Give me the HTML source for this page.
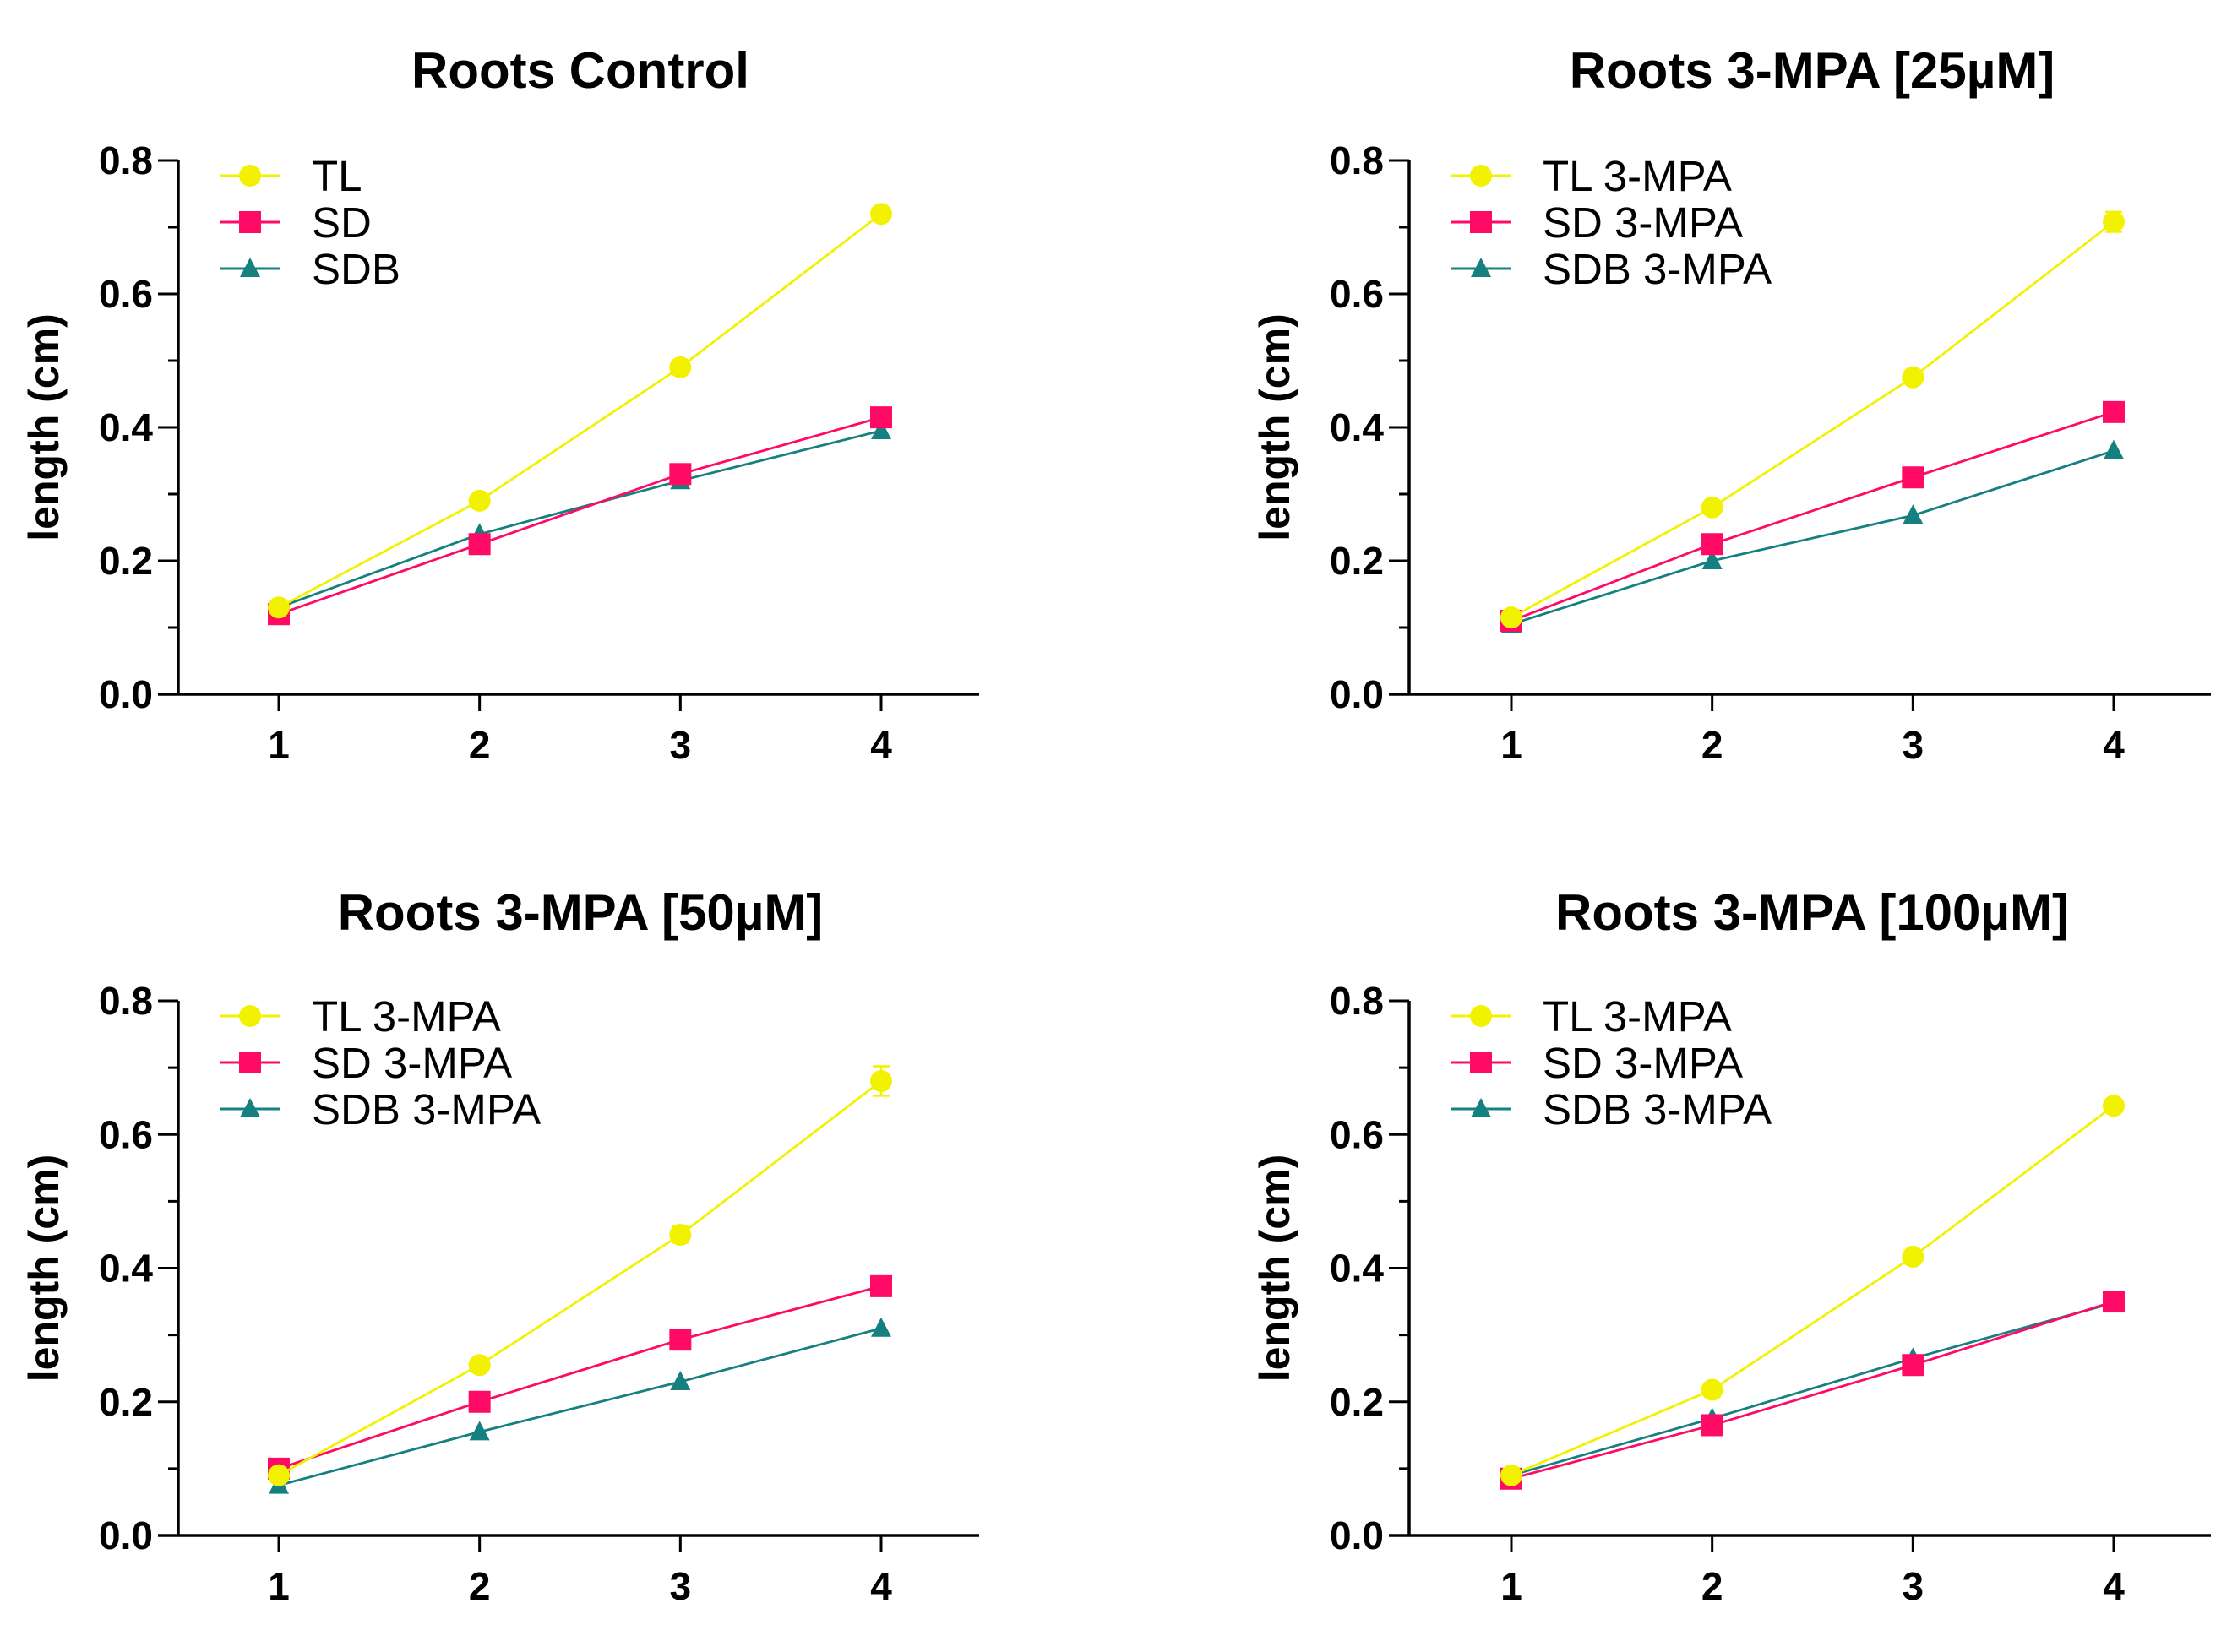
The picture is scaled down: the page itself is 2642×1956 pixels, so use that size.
<!DOCTYPE html>
<html><head><meta charset="utf-8"><style>
html,body{margin:0;padding:0;background:#fff}
svg{display:block}
text{font-family:"Liberation Sans",Arial,sans-serif}
</style></head><body>
<svg id="fig" width="2642" height="1956" viewBox="0 0 2642 1956" xmlns="http://www.w3.org/2000/svg"></svg>
<script>
const xCats = [1, 2, 3, 4];
const yTicks = [0.0, 0.2, 0.4, 0.6, 0.8];
const yTickLabels = ["0.0", "0.2", "0.4", "0.6", "0.8"];
const titles = ["Roots Control", "Roots 3-MPA [25µM]", "Roots 3-MPA [50µM]", "Roots 3-MPA [100µM]"];
const legendLabels = [["TL","SD","SDB"],["TL 3-MPA","SD 3-MPA","SDB 3-MPA"],["TL 3-MPA","SD 3-MPA","SDB 3-MPA"],["TL 3-MPA","SD 3-MPA","SDB 3-MPA"]];
const tlControl = [0.13, 0.29, 0.49, 0.72];
const sdControl = [0.12, 0.225, 0.33, 0.415];
const sdbControl = [0.13, 0.24, 0.32, 0.395];
const tl25 = [0.115, 0.28, 0.475, 0.708];
const sd25 = [0.11, 0.225, 0.325, 0.423];
const sdb25 = [0.105, 0.2, 0.268, 0.365];
const tl50 = [0.09, 0.255, 0.45, 0.68];
const sd50 = [0.1, 0.2, 0.293, 0.373];
const sdb50 = [0.075, 0.155, 0.23, 0.31];
const tl100 = [0.09, 0.218, 0.417, 0.643];
const sd100 = [0.085, 0.165, 0.255, 0.35];
const sdb100 = [0.09, 0.175, 0.265, 0.348];
const tlErr = [[0,0,0,0.008],[0,0,0,0.015],[0,0,0.012,0.022],[0,0,0,0.006]];

const NS = "http://www.w3.org/2000/svg";
const svg = document.getElementById("fig");
function mk(tag, attrs, parent) {
  const e = document.createElementNS(NS, tag);
  for (const k in attrs) e.setAttribute(k, attrs[k]);
  (parent || svg).appendChild(e);
  return e;
}
const panels = [
  {ax: 211, x1: 330, x4: 1043, xend: 1159, y0: 822, y8: 190, tx: 687, ty: 104},
  {ax: 1668, x1: 1789, x4: 2502, xend: 2617, y0: 822, y8: 190, tx: 2145, ty: 104},
  {ax: 211, x1: 330, x4: 1043, xend: 1159, y0: 1818, y8: 1185, tx: 687, ty: 1101},
  {ax: 1668, x1: 1789, x4: 2502, xend: 2617, y0: 1818, y8: 1185, tx: 2145, ty: 1101}
];
const seriesSets = [[tlControl, sdControl, sdbControl],[tl25, sd25, sdb25],[tl50, sd50, sdb50],[tl100, sd100, sdb100]];
const colors = ["#f2f200", "#ff0a64", "#168080"];
const seriesNames = ["tl", "sd", "sdb"];

function marker(g, type, cx, cy, color) {
  let m;
  if (type === 0) m = mk("circle", {cx: cx, cy: cy, r: 13, fill: color}, g);
  else if (type === 1) m = mk("rect", {x: cx - 13, y: cy - 13, width: 26, height: 26, fill: color}, g);
  else m = mk("polygon", {points: `${cx},${cy-13} ${cx+12},${cy+10} ${cx-12},${cy+10}`, fill: color}, g);
  return m;
}

panels.forEach((p, pi) => {
  const g = mk("g", {});
  
  
  const xs = v => p.x1 + (v - 1) * (p.x4 - p.x1) / 3;
  const ys = v => p.y0 - v * (p.y0 - p.y8) / 0.8;
  const t = mk("text", {x: p.tx, y: p.ty, "text-anchor": "middle", "font-size": 60, "font-weight": "bold"}, g);
  t.textContent = titles[pi];
  
  
  const yl = mk("text", {x: 0, y: 0, transform: `translate(${p.ax - 142},${(p.y0 + p.y8) / 2}) rotate(-90)`, "text-anchor": "middle", "font-size": 50, "font-weight": "bold"}, g);
  yl.textContent = "length (cm)";
  
  
  const ya = mk("line", {x1: p.ax, y1: p.y8, x2: p.ax, y2: p.y0 + 1.5, stroke: "#000", "stroke-width": 3.5}, g);
  
  
  const xa = mk("line", {x1: p.ax - 24, y1: p.y0, x2: p.xend, y2: p.y0, stroke: "#000", "stroke-width": 3.5}, g);
  
  
  for (let v = 0.1; v < 0.8; v += 0.2) {
    const mt = mk("line", {x1: p.ax - 12, y1: ys(v), x2: p.ax, y2: ys(v), stroke: "#000", "stroke-width": 3}, g);
    
    
  }
  yTicks.forEach((v, i) => {
    const tk = mk("line", {x1: p.ax - 24, y1: ys(v), x2: p.ax, y2: ys(v), stroke: "#000", "stroke-width": 3}, g);
    
    
    const tl = mk("text", {x: p.ax - 30, y: ys(v) + 16, "text-anchor": "end", "font-size": 46, "font-weight": "bold"}, g);
    tl.textContent = yTickLabels[i];
    
    
  });
  xCats.forEach(c => {
    const tk = mk("line", {x1: xs(c), y1: p.y0, x2: xs(c), y2: p.y0 + 20, stroke: "#000", "stroke-width": 3}, g);
    
    
    const tl = mk("text", {x: xs(c), y: p.y0 + 76, "text-anchor": "middle", "font-size": 46, "font-weight": "bold"}, g);
    tl.textContent = String(c);
    
    
  });
  const sets = seriesSets[pi];
  [2, 1, 0].forEach(si => {
    const vals = sets[si];
    const pl = mk("polyline", {points: vals.map((v, i) => xs(xCats[i]) + "," + ys(v)).join(" "), fill: "none", stroke: colors[si], "stroke-width": 2.8}, g);
    
    
    vals.forEach((v, i) => {
      if (si === 0 && tlErr[pi][i] > 0) {
        const e = tlErr[pi][i];
        const eb = mk("path", {d: `M${xs(xCats[i]) - 10},${ys(v + e)}H${xs(xCats[i]) + 10}M${xs(xCats[i])},${ys(v + e)}V${ys(v - e)}M${xs(xCats[i]) - 10},${ys(v - e)}H${xs(xCats[i]) + 10}`, stroke: colors[si], "stroke-width": 2.5, fill: "none"}, g);
        
        
      }
      const m = marker(g, si, xs(xCats[i]), ys(v), colors[si]);
      
      
    });
  });
  legendLabels[pi].forEach((lab, si) => {
    const ly = p.y8 + 18 + si * 55;
    const lg = mk("g", {}, g);
    
    
    mk("line", {x1: p.ax + 49, y1: ly, x2: p.ax + 120, y2: ly, stroke: colors[si], "stroke-width": 3}, lg);
    marker(lg, si, p.ax + 85, ly, colors[si]);
    const tx = mk("text", {x: p.ax + 158, y: ly + 18, "font-size": 51}, lg);
    tx.textContent = lab;
  });
});
</script>
</body></html>
